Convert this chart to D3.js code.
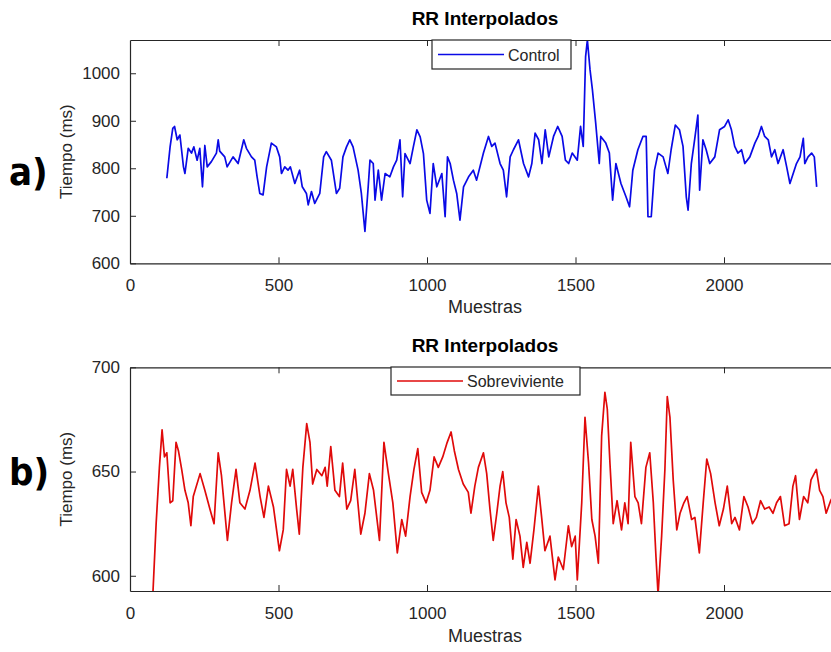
<!DOCTYPE html>
<html>
<head>
<meta charset="utf-8">
<script src="https://cdn.jsdelivr.net/npm/d3@7"></script>
<style>
  html, body { margin: 0; padding: 0; background: #fff; }
  svg { display: block; }
  text { font-family: "Liberation Sans", Arial, Helvetica, sans-serif; }
</style>
</head>
<body>
<svg id="chart" width="831" height="652"></svg>
<script>
// ---------------- data ----------------
const chartTitle = "RR Interpolados";
const xLabel = "Muestras";
const yLabel = "Tiempo (ms)";
const xTicks = [0, 500, 1000, 1500, 2000];
const topYTicks = [600, 700, 800, 900, 1000];
const botYTicks = [600, 650, 700];

const controlSamples = [124,135,144,150,159,168,180,185,196,207,215,226,235,244,252,260,274,291,297,302,319,327,347,364,383,392,409,420,428,437,448,460,476,493,504,510,521,532,540,555,571,580,594,600,611,622,639,652,661,678,695,706,717,729,740,751,768,779,791,802,808,819,825,836,847,859,875,887,898,909,918,926,943,954,966,977,988,999,1010,1021,1033,1050,1061,1069,1078,1089,1100,1111,1123,1140,1156,1167,1190,1207,1218,1229,1246,1257,1268,1280,1291,1308,1325,1342,1353,1364,1376,1387,1398,1410,1426,1440,1455,1466,1477,1489,1506,1517,1526,1534,1540,1549,1557,1568,1580,1585,1602,1614,1625,1636,1653,1670,1682,1693,1710,1727,1738,1744,1755,1766,1778,1795,1811,1822,1836,1850,1862,1873,1879,1890,1901,1912,1918,1929,1940,1952,1969,1985,2002,2014,2025,2036,2047,2059,2070,2087,2104,2115,2126,2137,2149,2160,2171,2182,2199,2211,2222,2233,2244,2256,2267,2272,2283,2295,2304,2312];
const controlValues = [779,845,884,888,860,870,803,789,842,832,845,817,842,761,848,803,814,832,860,836,824,803,824,810,860,842,824,817,782,747,744,803,853,845,824,789,803,796,803,768,796,761,747,723,751,726,747,824,835,817,747,758,824,845,860,845,796,747,667,761,817,810,733,796,733,789,782,803,817,860,740,831,810,845,881,866,831,733,705,810,761,789,698,824,810,775,747,691,761,782,796,775,832,867,846,853,810,796,740,824,839,860,810,782,810,874,860,810,881,824,867,888,867,817,810,832,817,888,846,1035,1070,1007,965,895,810,867,853,832,733,810,768,740,719,796,839,867,867,698,698,796,832,824,789,839,891,881,846,740,712,810,860,912,754,860,839,810,824,881,888,902,881,846,832,839,810,824,853,867,888,867,860,824,839,810,839,803,768,789,810,824,863,810,824,832,824,761];

const survSamples = [75,88,99,108,116,124,135,144,155,163,174,185,196,205,213,236,252,269,283,297,308,328,342,357,370,387,404,421,438,451,466,483,503,516,527,539,548,561,570,582,595,606,615,629,646,657,664,676,690,705,716,730,743,757,777,791,806,820,840,855,870,885,900,915,928,943,956,969,982,997,1010,1024,1038,1053,1068,1081,1092,1106,1122,1139,1148,1161,1173,1190,1201,1212,1223,1235,1246,1255,1266,1277,1289,1300,1313,1324,1336,1347,1360,1375,1386,1397,1414,1431,1442,1459,1476,1487,1499,1506,1521,1532,1544,1555,1566,1577,1588,1599,1607,1616,1627,1640,1655,1666,1677,1686,1700,1711,1722,1737,1750,1762,1771,1778,1790,1801,1809,1818,1829,1841,1852,1865,1876,1891,1902,1917,1930,1942,1955,1970,1984,1998,2011,2026,2037,2052,2067,2081,2096,2109,2123,2137,2152,2165,2177,2190,2204,2219,2232,2241,2254,2268,2282,2293,2311,2322,2333,2344,2359,2375];
const survValues = [585,625,652,670,657,659,635,636,664,660,651,641,635,624,638,649,641,632,625,659,648,617,635,651,635,632,641,654,638,628,643,633,612,622,651,643,651,632,620,652,673,664,644,651,648,652,643,662,641,638,654,632,636,651,620,630,649,641,617,664,649,635,611,627,619,638,651,661,640,635,641,657,652,657,664,669,660,651,644,640,630,643,652,659,649,632,617,630,643,650,635,628,608,627,619,604,616,606,622,643,628,612,619,598,609,603,624,614,619,598,635,676,654,627,619,606,667,688,680,654,625,636,622,635,625,664,638,635,625,652,659,635,609,591,619,651,686,676,646,622,630,635,638,627,628,611,635,656,649,635,624,632,643,625,628,622,638,633,625,628,636,632,633,630,635,638,624,625,643,648,627,638,635,646,651,641,638,630,636,640];

const panels = [
  { samples: controlSamples, values: controlValues, yDomain: [600, 1070], yTicks: topYTicks,
    top: 40, bottom: 263.3, color: "#0a0ae6", legend: "Control",
    legendBox: [432, 40, 139, 29], tag: "a)", tagY: 185, titleY: 25, xLabelY: 313 },
  { samples: survSamples, values: survValues, yDomain: [592.7, 700], yTicks: botYTicks,
    top: 367.3, bottom: 591, color: "#e00a0a", legend: "Sobreviviente",
    legendBox: [391, 367, 189, 28], tag: "b)", tagY: 485, titleY: 352, xLabelY: 642 }
];

// ---------------- drawing ----------------
const svg = d3.select("#chart");
const left = 130, right = 842.8;
const axisColor = "#262626";
const x = d3.scaleLinear().domain([0, 2400]).range([left, right]);
const fmt = d3.format("d");

panels.forEach((p, i) => {
  const y = d3.scaleLinear().domain(p.yDomain).range([p.bottom, p.top]);
  const g = svg.append("g");

  const clipId = "clip" + i;
  svg.append("clipPath").attr("id", clipId)
    .append("rect").attr("x", left).attr("y", p.top)
    .attr("width", right - left).attr("height", p.bottom - p.top);

  // line
  const data = p.samples.map((s, k) => [s, p.values[k]]);
  g.append("path")
    .datum(data)
    .attr("clip-path", `url(#${clipId})`)
    .attr("fill", "none")
    .attr("stroke", p.color)
    .attr("stroke-width", 1.7)
    .attr("stroke-linejoin", "round")
    .attr("d", d3.line().x(d => x(d[0])).y(d => y(d[1])));

  // bottom axis
  const xAxis = g.append("g")
    .attr("transform", `translate(0,${p.bottom})`)
    .call(d3.axisBottom(x).tickValues(xTicks).tickFormat(fmt).tickSizeInner(-6).tickSizeOuter(0).tickPadding(16));
  // top border with ticks
  const xTop = g.append("g")
    .attr("transform", `translate(0,${p.top})`)
    .call(d3.axisTop(x).tickValues(xTicks).tickSizeInner(-6).tickSizeOuter(0).tickFormat(""));
  // left axis
  const yAxis = g.append("g")
    .attr("transform", `translate(${left},0)`)
    .call(d3.axisLeft(y).tickValues(p.yTicks).tickFormat(fmt).tickSizeInner(-6).tickSizeOuter(0).tickPadding(10));

  [xAxis, xTop, yAxis].forEach(a => {
    a.select(".domain").attr("stroke", axisColor).attr("stroke-width", 1.2);
    a.selectAll(".tick line").attr("stroke", axisColor);
    a.selectAll(".tick text").attr("fill", axisColor)
      .style("font-size", "17px")
      .style("font-family", '"Liberation Sans", Arial, sans-serif');
  });
  xTop.selectAll(".tick").filter(d => d === 0).remove();
  xAxis.selectAll(".tick line").filter(d => d === 0).remove();

  // title
  g.append("text").attr("x", 485).attr("y", p.titleY)
    .attr("text-anchor", "middle").attr("fill", "#000")
    .style("font-size", "19px").style("font-weight", "bold")
    .text(chartTitle);

  // x label
  g.append("text").attr("x", 485).attr("y", p.xLabelY)
    .attr("text-anchor", "middle").attr("fill", axisColor)
    .style("font-size", "18px")
    .text(xLabel);

  // y label
  g.append("text")
    .attr("transform", `translate(72,${(p.top + p.bottom) / 2}) rotate(-90)`)
    .attr("text-anchor", "middle").attr("fill", axisColor)
    .style("font-size", "17px")
    .text(yLabel);

  // panel tag
  g.append("text").attr("x", 9).attr("y", p.tagY)
    .attr("fill", "#000")
    .style("font-size", "38px").style("font-weight", "bold")
    .style("font-family", '"DejaVu Sans Condensed", "Liberation Sans Narrow", "Liberation Sans", sans-serif')
    .text(p.tag);

  // legend
  const [lx, ly, lw, lh] = p.legendBox;
  const lg = g.append("g");
  lg.append("rect").attr("x", lx).attr("y", ly).attr("width", lw).attr("height", lh)
    .attr("fill", "#fff").attr("stroke", axisColor).attr("stroke-width", 1.2);
  lg.append("line").attr("x1", lx + 6).attr("x2", lx + 72)
    .attr("y1", ly + lh / 2).attr("y2", ly + lh / 2)
    .attr("stroke", p.color).attr("stroke-width", 1.3);
  lg.append("text").attr("x", lx + 76).attr("y", ly + lh / 2 + 6)
    .attr("fill", axisColor).style("font-size", "16px")
    .text(p.legend);
});
</script>
</body>
</html>
